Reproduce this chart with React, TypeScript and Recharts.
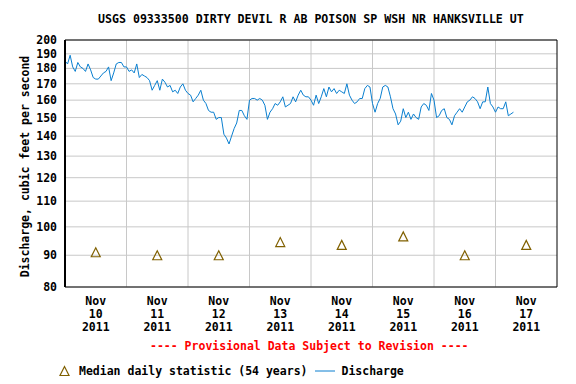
import React from "react";
import {
  ComposedChart,
  Line,
  Scatter,
  XAxis,
  YAxis,
  CartesianGrid,
  ReferenceLine,
} from "recharts";

// hourly discharge, cfs, starting Nov 10 2011 00:00
const NOV10 = [185, 183, 189, 181, 178, 184, 181, 180, 178, 183, 179, 174, 173, 173, 175, 177, 178, 181, 172, 177, 183, 184, 184, 181];
const NOV11 = [181, 178, 179, 177, 183, 174, 176, 175, 174, 172, 166, 169, 172, 166, 173, 171, 168, 169, 165, 166, 164, 168, 170, 166];
const NOV12 = [164, 163, 159, 161, 163, 166, 160, 158, 154, 153, 153, 149, 150, 150, 141, 139, 136, 140, 144, 147, 154, 154, 151, 149];
const NOV13 = [160, 161, 161, 160, 161, 160, 157, 149, 153, 155, 158, 157, 159, 162, 156, 157, 158, 162, 159, 163, 166, 163, 162, 162];
const NOV14 = [160, 157, 163, 158, 162, 167, 162, 168, 165, 167, 164, 166, 165, 164, 170, 163, 160, 158, 159, 161, 161, 167, 169, 168];
const NOV15 = [158, 153, 158, 161, 168, 169, 168, 162, 155, 152, 146, 148, 155, 150, 153, 149, 152, 150, 149, 156, 158, 157, 154, 164];
const NOV16 = [160, 150, 151, 154, 155, 150, 149, 146, 151, 153, 155, 153, 156, 159, 160, 162, 161, 159, 155, 159, 159, 168, 158, 156];
const NOV17 = [153, 156, 155, 155, 159, 151, 152, 153];

const discharge = [...NOV10, ...NOV11, ...NOV12, ...NOV13, ...NOV14, ...NOV15, ...NOV16, ...NOV17];

const DAYS = ["10", "11", "12", "13", "14", "15", "16", "17"];
const MEDIANS = [91, 90, 90, 94.5, 93.5, 96.5, 90, 93.5];
const Y_TICKS = [80, 90, 100, 110, 120, 130, 140, 150, 160, 170, 180, 190, 200];

const lineData = discharge.map((q, i) => ({ h: i, q }));
const medianData = MEDIANS.map((m, i) => ({ h: 12 + i * 24, m }));
const dayTicks = DAYS.map((_, i) => 12 + i * 24);
const midnights = [24, 48, 72, 96, 120, 144, 168];

const FONT = "'DejaVu Sans Mono', monospace";
const TRI = "#806000";
const BLUE = "#0a7fd0";

function Triangle(props: any) {
  const { cx, cy } = props;
  if (cx == null || cy == null) return null;
  return (
    <polygon
      points={`${cx - 4.5},${cy + 4.5} ${cx + 4.5},${cy + 4.5} ${cx},${cy - 4.5}`}
      fill="none"
      stroke={TRI}
      strokeWidth={1.2}
    />
  );
}

function DayTick(props: any) {
  const { x, y, payload } = props;
  const idx = dayTicks.indexOf(payload.value);
  return (
    <text x={x} y={y} textAnchor="middle" fontFamily={FONT} fontWeight="bold" fontSize={11.5} fill="#000">
      <tspan x={x} dy={10}>Nov</tspan>
      <tspan x={x} dy={13}>{DAYS[idx]}</tspan>
      <tspan x={x} dy={13}>2011</tspan>
    </text>
  );
}

const textStyle: React.CSSProperties = {
  position: "absolute",
  fontFamily: FONT,
  fontWeight: "bold",
  fontSize: 11.5,
  color: "#000",
  whiteSpace: "pre",
  lineHeight: "14px",
};

export default function App() {
  return (
    <div style={{ position: "absolute", left: 0, top: 0, width: 576, height: 384, background: "#fff" }}>
      <div style={{ ...textStyle, top: 12, left: 98, fontSize: 11.6 }}>
        USGS 09333500 DIRTY DEVIL R AB POISON SP WSH NR HANKSVILLE UT
      </div>
      <ComposedChart width={576} height={384} margin={{ top: 40, right: 19, bottom: 47, left: 0 }}>
        <CartesianGrid vertical={false} stroke="#c8c8c8" strokeWidth={1} />
        {midnights.map((m) => (
          <ReferenceLine key={m} x={m} stroke="#c8c8c8" strokeWidth={1} />
        ))}
        <XAxis
          type="number"
          dataKey="h"
          domain={[0, 192]}
          ticks={dayTicks}
          interval={0}
          tick={<DayTick />}
          tickLine={false}
          axisLine={{ stroke: "#000", strokeWidth: 1 }}
          height={50}
          allowDataOverflow
        />
        <YAxis
          type="number"
          scale="log"
          domain={[80, 200]}
          ticks={Y_TICKS}
          interval={0}
          allowDataOverflow
          width={65}
          tickLine={false}
          tickSize={0}
          tickMargin={8}
          axisLine={{ stroke: "#000", strokeWidth: 2 }}
          tick={{ fontFamily: FONT, fontWeight: "bold", fontSize: 11.5, fill: "#000" }}
          label={{
            value: "Discharge, cubic feet per second",
            angle: -90,
            position: "center",
            dx: -8,
            dy: 3,
            style: { fontFamily: FONT, fontWeight: "bold", fontSize: 11.5, fill: "#000", textAnchor: "middle" },
          }}
        />
        <ReferenceLine y={200} stroke="#000" strokeWidth={1} />
        <ReferenceLine x={192} stroke="#000" strokeWidth={1} />
        <Line
          data={lineData}
          dataKey="q"
          type="linear"
          stroke={BLUE}
          strokeWidth={1}
          dot={false}
          isAnimationActive={false}
        />
        <Scatter data={medianData} dataKey="m" shape={<Triangle />} isAnimationActive={false} />
      </ComposedChart>
      <div style={{ ...textStyle, top: 339, left: 150, color: "#ff0000" }}>
        ---- Provisional Data Subject to Revision ----
      </div>
      <div style={{ ...textStyle, top: 364, left: 58, display: "flex", alignItems: "center" }}>
        <svg width={14} height={12}>
          <polygon points="2,10.5 11,10.5 6.5,1.5" fill="none" stroke={TRI} strokeWidth={1.2} />
        </svg>
        <span style={{ marginLeft: 7 }}>Median daily statistic (54 years)</span>
        <svg width={22} height={12} style={{ marginLeft: 8 }}>
          <line x1={0} y1={6} x2={20} y2={6} stroke={BLUE} strokeWidth={1} />
        </svg>
        <span style={{ marginLeft: 4 }}>Discharge</span>
      </div>
    </div>
  );
}
